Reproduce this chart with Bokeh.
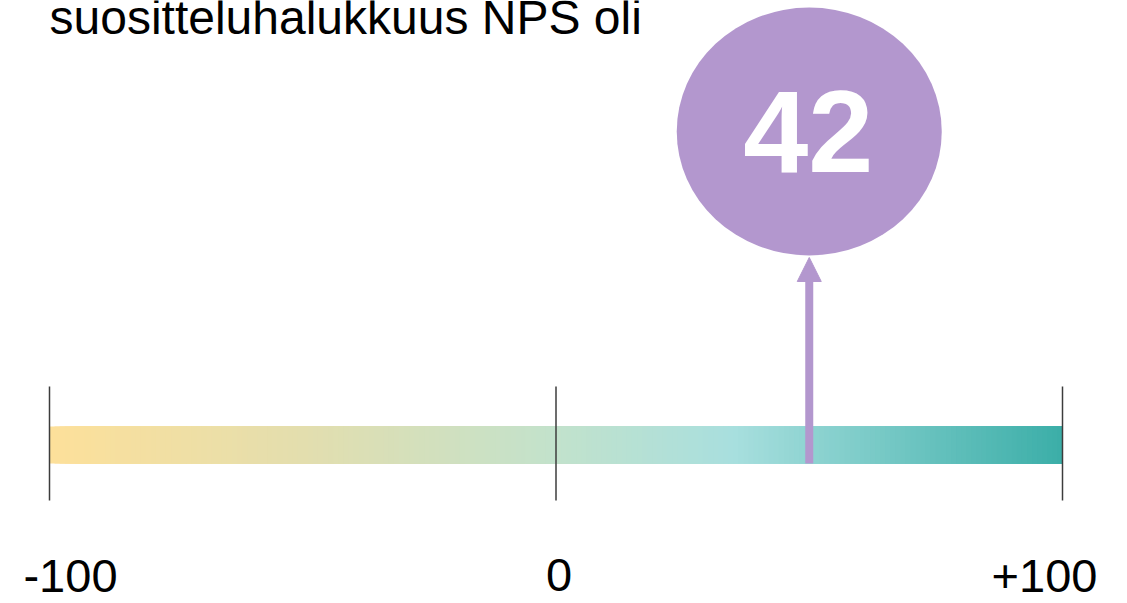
from bokeh.plotting import figure
from bokeh.models import Range1d, Arrow, NormalHead
from bokeh.core.properties import value
from bokeh.embed import file_html
from bokeh.resources import INLINE
import numpy as np

# ---- data ----
title_text = "suositteluhalukkuus NPS oli"
scale_ticks = [-100, 0, 100]
scale_labels = ["-100", "0", "+100"]
nps_score = 42            # value shown in the bubble
marker_position = 50      # where the pointer sits on the scale

# ---- style ----
W, H = 1127, 603
PX_PER_UNIT = 1013 / 200.0
X0_PX = 49  # px of -100
BASE_K = 0.38  # svg alphabetic baseline correction (fraction of font size)
purple = "#B397CE"
grad_stops_x = [-100, -50, 0, 35, 100]
grad_stops_c = ["#FDE09A", "#E3DEAE", "#C2E2CC", "#A8DFDE", "#3BAEA8"]

x_start = -100 - X0_PX / PX_PER_UNIT
x_end = x_start + W / PX_PER_UNIT

p = figure(width=W, height=H, output_backend="svg", toolbar_location=None,
           x_range=Range1d(x_start, x_end), y_range=Range1d(H, 0),
           min_border=0, outline_line_color=None)
p.axis.visible = False
p.grid.visible = False
p.background_fill_color = "white"
p.border_fill_color = "white"


def hex2rgb(h):
    h = h.lstrip("#")
    return np.array([int(h[i:i + 2], 16) for i in (0, 2, 4)], dtype=float)


def baseline(y, size):
    return y - BASE_K * size


stops_rgb = np.array([hex2rgb(c) for c in grad_stops_c])
edges = np.linspace(scale_ticks[0], scale_ticks[-1], 201)
mids = (edges[:-1] + edges[1:]) / 2
cols = []
for m in mids:
    rgb = [np.interp(m, grad_stops_x, stops_rgb[:, k]) for k in range(3)]
    cols.append("#%02x%02x%02x" % tuple(int(round(v)) for v in rgb))

bar_top, bar_bottom = 426, 463
p.quad(left=edges[:-1], right=[scale_ticks[-1]] * len(mids), top=bar_top,
       bottom=bar_bottom, fill_color=cols, line_color=None)

# tick lines
p.segment(x0=scale_ticks, x1=scale_ticks, y0=386, y1=500,
          line_color="#3c3c3c", line_width=1.5)

# tick labels
label_offsets = [21, 3, -18]
label_base = [593, 592, 593]
for t, lab, off, b in zip(scale_ticks, scale_labels, label_offsets, label_base):
    p.text(x=[t], y=[baseline(b, 47)], text=[lab], x_offset=off,
           text_align="center", text_baseline="alphabetic",
           text_font=value("Liberation Sans"), text_font_size="47px",
           text_color="black")

# title
p.text(x=[scale_ticks[0]], y=[baseline(35, 48)], text=[title_text], x_offset=0,
       text_align="left", text_baseline="alphabetic",
       text_font=value("Liberation Sans"), text_font_size="48px",
       text_color="black")

# pointer arrow
p.add_layout(Arrow(end=NormalHead(size=24, fill_color=purple, line_color=purple,
                                  line_width=1),
                   x_start=marker_position, y_start=bar_bottom,
                   x_end=marker_position, y_end=257,
                   line_color=purple, line_width=8))

# bubble
p.ellipse(x=[marker_position], y=[131], width=265, height=248,
          width_units="screen", height_units="screen",
          fill_color=purple, line_color=None)
p.text(x=[marker_position], y=[baseline(175.7, 117)], text=[str(nps_score)],
       x_offset=-1, text_align="center", text_baseline="alphabetic",
       text_font=value("Liberation Sans"), text_font_style="bold",
       text_font_size="117px", text_color="white")

open("out.html", "w").write(file_html(p, INLINE))
